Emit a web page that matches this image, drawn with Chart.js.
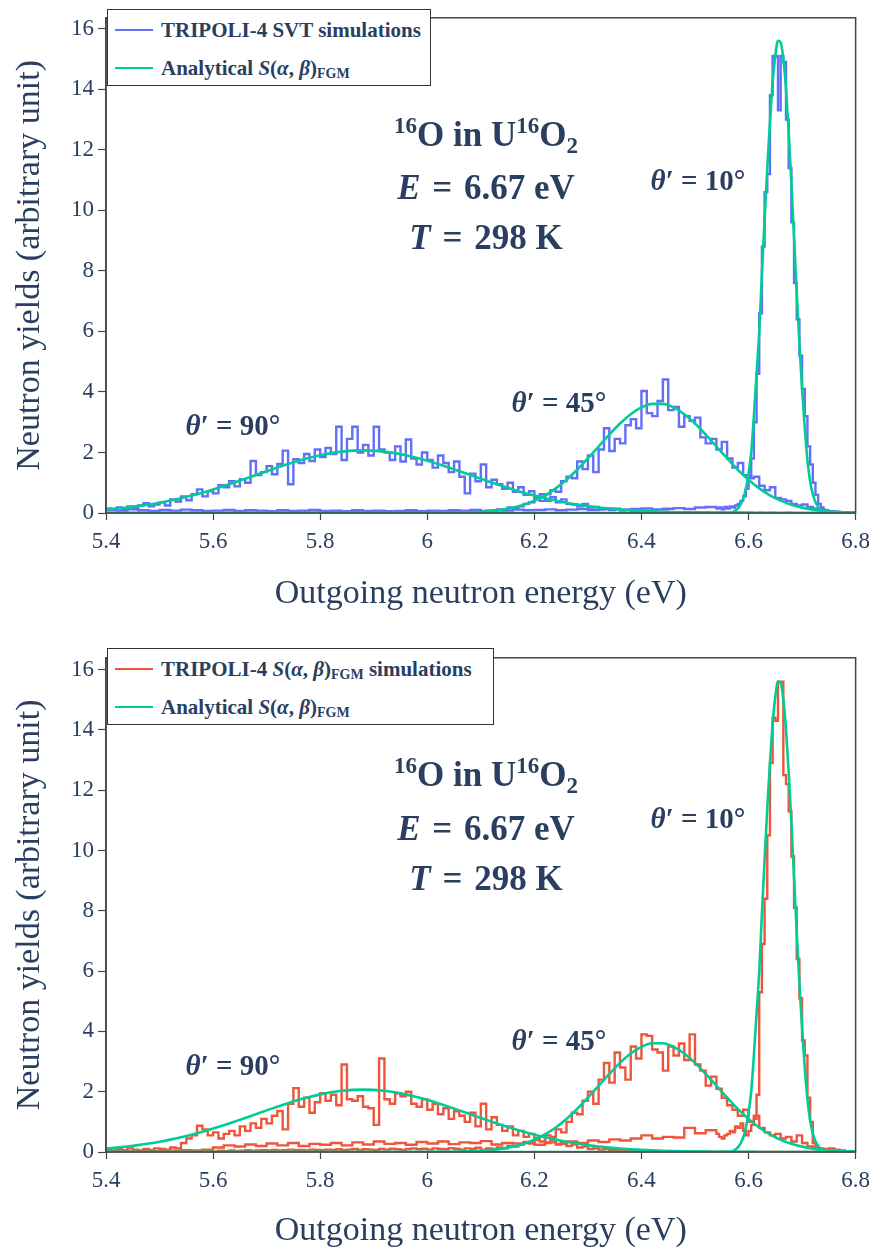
<!DOCTYPE html>
<html>
<head>
<meta charset="utf-8">
<script src="https://cdn.jsdelivr.net/npm/chart.js@4.4.1/dist/chart.umd.min.js"></script>
<style>
  body { margin: 0; background: #fff; }
  #page { position: relative; width: 878px; height: 1251px; overflow: hidden; color: #2a3f5f; font-family: "Liberation Serif", serif; }
  canvas { position: absolute; left: 0; }
  #c1 { top: 0; }
  #c2 { top: 640px; }
  .legend { position: absolute; left: 107px; border: 1.5px solid #333; background: #fff; box-sizing: border-box; }
  .leg-row { position: absolute; left: 7px; font-weight: bold; font-size: 21px; line-height: 24px; white-space: nowrap; }
  .leg-row .sw { display: inline-block; width: 38px; height: 2.5px; vertical-align: middle; margin-right: 8px; position: relative; top: -2px; }
  .leg-row sub { font-size: 14px; vertical-align: -3px; }
  .ann { position: absolute; font-weight: bold; white-space: nowrap; line-height: 1; transform: translate(-50%, -50%); }
  .big { font-size: 35px; }
  .big sup { font-size: 23px; vertical-align: 13px; }
  .big sub { font-size: 23px; vertical-align: -7px; }
  .ang { font-size: 29px; }
  .eq { margin: 0 3px; }
</style>
</head>
<body>
<div id="page">
  <canvas id="c1" width="878" height="640"></canvas>
  <canvas id="c2" width="878" height="611"></canvas>

  <div class="legend" style="top:9px; width:324px; height:77px;">
    <div class="leg-row" style="top:8px;"><span class="sw" style="background:#636efa"></span>TRIPOLI-4 SVT simulations</div>
    <div class="leg-row" style="top:46px;"><span class="sw" style="background:#00cc96"></span>Analytical <i>S</i>(<i>α</i>, <i>β</i>)<sub>FGM</sub></div>
  </div>
  <div class="legend" style="top:648px; width:387px; height:77px;">
    <div class="leg-row" style="top:8px;"><span class="sw" style="background:#ef553b"></span>TRIPOLI-4 <i>S</i>(<i>α</i>, <i>β</i>)<sub>FGM</sub> simulations</div>
    <div class="leg-row" style="top:46px;"><span class="sw" style="background:#00cc96"></span>Analytical <i>S</i>(<i>α</i>, <i>β</i>)<sub>FGM</sub></div>
  </div>

  <div class="ann big" style="left:486px; top:135px;"><sup>16</sup>O in U<sup>16</sup>O<sub>2</sub></div>
  <div class="ann big" style="left:486px; top:187px;"><i>E</i> <span class="eq">=</span> 6.67 eV</div>
  <div class="ann big" style="left:486px; top:237px;"><i>T</i> <span class="eq">=</span> 298 K</div>
  <div class="ann ang" style="left:698px; top:180px;"><i>θ</i>′ = 10°</div>
  <div class="ann ang" style="left:559px; top:402px;"><i>θ</i>′ = 45°</div>
  <div class="ann ang" style="left:233px; top:425px;"><i>θ</i>′ = 90°</div>

  <div class="ann big" style="left:486px; top:775px;"><sup>16</sup>O in U<sup>16</sup>O<sub>2</sub></div>
  <div class="ann big" style="left:486px; top:828px;"><i>E</i> <span class="eq">=</span> 6.67 eV</div>
  <div class="ann big" style="left:486px; top:878px;"><i>T</i> <span class="eq">=</span> 298 K</div>
  <div class="ann ang" style="left:698px; top:818px;"><i>θ</i>′ = 10°</div>
  <div class="ann ang" style="left:559px; top:1040px;"><i>θ</i>′ = 45°</div>
  <div class="ann ang" style="left:233px; top:1065px;"><i>θ</i>′ = 90°</div>
</div>

<script>
// ── Axes ──────────────────────────────────────────────────────────────────────
const X_TICKS = [5.4, 5.6, 5.8, 6.0, 6.2, 6.4, 6.6, 6.8];
const Y_TICKS = [0, 2, 4, 6, 8, 10, 12, 14, 16];
const X_TITLE = 'Outgoing neutron energy (eV)';
const Y_TITLE = 'Neutron yields (arbitrary unit)';

// ── Histogram bins (left edges start at 5.40 eV) ─────────────────────────────
const BIN_W  = 0.01;   // 90° and 45° histograms
const TAIL_W = 0.02;   // 10° low-energy tail, 5.40 – 6.54
const PEAK_W = 0.005;  // 10° peak, 6.54 – 6.80

// TRIPOLI-4 SVT (top panel)
const SVT_90 = [
  0.15,0.12,0.18,0.14,0.22,0.15,0.25,0.32,0.22,0.28,
  0.35,0.25,0.45,0.38,0.55,0.42,0.62,0.78,0.55,0.72,
  0.65,0.92,0.85,1.05,0.88,1.12,1.00,1.72,1.25,1.35,
  1.55,1.28,1.62,2.06,0.95,1.78,1.65,1.95,1.72,2.10,
  1.85,2.15,1.95,2.85,1.75,2.45,2.85,2.00,2.25,1.90,
  2.85,2.10,2.00,1.75,2.20,1.70,2.43,1.80,1.60,2.00,
  1.75,1.50,1.90,1.65,1.35,1.70,1.20,0.65,1.30,1.05,
  1.60,0.85,1.10,0.95,0.80,1.00,0.70,0.85,0.60,0.72,
  0.50,0.62,0.40,0.52,0.35,0.45,0.30,0.28,0.22,0.30,
  0.18,0.20,0.12,0.15,0.10,0.12,0.08,0.10,0.06,0.07,
  0.05,0.04,0.05,0.03,0.04,0.02,0.03,0.02,0.03,0.02,
  0.02,0.01,0.02,0.01,0.02,0.01,0.01,0.02,0.01,0.01,
  0.01,0,0.01,0,0.01,0,0,0.01,0,0,
  0,0,0,0,0,0,0,0,0,0
];
const SVT_45 = [
  0,0,0,0,0,0,0,0,0,0,
  0,0,0,0,0,0,0.01,0,0,0.01,
  0,0.01,0,0.01,0,0.01,0.01,0,0.01,0.01,
  0.01,0.01,0.02,0.01,0.01,0.02,0.01,0.02,0.01,0.02,
  0.02,0.01,0.02,0.03,0.02,0.02,0.03,0.02,0.03,0.02,
  0.03,0.02,0.03,0.04,0.03,0.04,0.03,0.05,0.04,0.03,
  0.04,0.05,0.04,0.06,0.05,0.04,0.06,0.05,0.07,0.06,
  0.05,0.08,0.06,0.12,0.10,0.18,0.15,0.22,0.30,0.35,
  0.45,0.40,0.62,0.75,0.70,1.05,1.20,1.15,1.70,1.45,
  1.90,1.35,2.10,2.80,2.05,2.45,2.30,2.90,3.10,2.80,
  4.03,3.30,3.20,3.70,4.41,3.40,3.50,2.85,3.20,3.05,
  3.15,2.50,2.30,2.45,2.10,2.35,1.80,1.50,1.65,1.25,
  1.15,1.20,0.90,0.75,0.85,0.50,0.45,0.40,0.30,0.25,
  0.28,0.20,0.15,0.12,0.08,0.05,0.04,0.02,0.02,0.01
];
const SVT_10_TAIL = [
  0.10,0.08,0.12,0.09,0.07,0.10,0.08,0.11,0.09,0.07,
  0.08,0.10,0.07,0.09,0.08,0.06,0.09,0.07,0.08,0.10,
  0.07,0.08,0.06,0.09,0.07,0.08,0.06,0.07,0.09,0.06,
  0.08,0.07,0.09,0.08,0.10,0.07,0.09,0.08,0.11,0.09,
  0.10,0.12,0.09,0.11,0.13,0.10,0.12,0.14,0.11,0.13,
  0.15,0.12,0.14,0.16,0.13,0.18,0.20
];
const SVT_10_PEAK = [
  0.15,0.18,0.12,0.20,0.15,0.22,0.18,0.25,0.30,0.40,
  0.55,0.80,1.20,1.80,3.00,4.60,6.60,8.80,10.6,11.2,
  13.8,15.1,15.1,13.3,15.1,14.9,13.0,11.4,9.60,7.60,
  6.40,5.20,4.10,3.20,2.20,1.60,1.00,0.60,0.30,0.18,
  0.10,0.08,0.06,0.05,0.04,0.03,0.03,0.02,0.02,0.01,
  0.01,0.01
];

// TRIPOLI-4 S(α,β)FGM (bottom panel)
const FGM_90 = [
  0.08,0.05,0.10,0.06,0.12,0.08,0.05,0.10,0.07,0.12,
  0.10,0.08,0.15,0.12,0.30,0.45,0.55,0.87,0.75,0.55,
  0.65,0.45,0.60,0.70,0.55,0.85,0.70,0.95,0.80,1.10,
  0.95,1.20,1.36,0.75,1.60,2.12,1.50,1.80,1.30,1.65,
  1.95,1.70,1.90,1.55,2.90,1.75,1.70,1.85,1.50,1.45,
  0.90,3.10,1.75,1.60,1.95,1.85,2.00,1.60,1.50,1.75,
  1.40,1.60,1.25,1.45,1.10,1.35,1.20,1.00,1.30,0.85,
  1.60,0.75,1.15,0.90,0.70,0.85,0.55,0.70,0.50,0.60,
  0.45,0.50,0.30,0.40,0.25,0.30,0.20,0.25,0.15,0.18,
  0.10,0.12,0.08,0.10,0.06,0.07,0.05,0.04,0.05,0.03,
  0.03,0.02,0.03,0.02,0.02,0.01,0.02,0.01,0.01,0.01,
  0.01,0,0.01,0,0,0.01,0,0,0,0,
  0,0,0,0,0,0,0,0,0,0,
  0,0,0,0,0,0,0,0,0,0
];
const FGM_45 = [
  0,0,0,0,0,0,0,0,0,0,
  0,0.01,0,0.01,0.02,0.01,0.02,0.03,0.02,0.03,
  0.02,0.04,0.03,0.05,0.03,0.04,0.06,0.04,0.05,0.06,
  0.05,0.07,0.05,0.06,0.08,0.06,0.07,0.05,0.08,0.07,
  0.06,0.08,0.07,0.09,0.06,0.08,0.10,0.07,0.09,0.08,
  0.07,0.10,0.08,0.11,0.09,0.07,0.10,0.12,0.09,0.11,
  0.08,0.12,0.10,0.09,0.13,0.11,0.08,0.12,0.10,0.14,
  0.08,0.12,0.10,0.15,0.12,0.20,0.18,0.25,0.30,0.28,
  0.40,0.35,0.55,0.50,0.75,0.65,1.00,1.30,1.25,1.70,
  2.00,1.60,2.40,2.95,2.30,3.30,2.80,2.40,3.50,3.10,
  3.90,3.85,3.40,3.30,2.70,3.50,3.20,3.60,3.05,3.90,
  2.90,2.70,2.20,2.50,2.10,1.80,1.55,1.40,1.20,1.40,
  1.00,1.20,0.80,0.65,0.55,0.60,0.45,0.50,0.35,0.55,
  0.30,0.18,0.15,0.12,0.10,0.12,0.08,0.05,0.03,0.02
];
const FGM_10_TAIL = [
  0.02,0.03,0.02,0.04,0.03,0.05,0.04,0.06,0.05,0.08,
  0.15,0.22,0.18,0.25,0.20,0.28,0.22,0.30,0.20,0.27,
  0.24,0.30,0.22,0.32,0.25,0.35,0.27,0.30,0.24,0.33,
  0.28,0.35,0.26,0.32,0.30,0.36,0.25,0.30,0.28,0.33,
  0.24,0.32,0.27,0.35,0.30,0.38,0.33,0.42,0.38,0.45,
  0.55,0.45,0.50,0.48,0.80,0.62,0.72
];
const FGM_10_PEAK = [
  0.60,0.50,0.45,0.55,0.60,0.70,0.65,0.85,0.80,0.95,
  0.70,0.55,0.70,0.90,1.10,1.90,5.30,6.90,8.40,10.5,
  12.9,14.4,14.3,15.6,15.6,12.5,12.2,11.3,9.80,8.10,
  6.40,5.10,3.70,3.20,1.80,1.00,0.30,0.20,0.12,0.08,
  0.07,0.05,0.06,0.04,0.03,0.05,0.03,0.02,0.02,0.01,
  0.01,0.01
];

// ── Analytical S(α,β)FGM curves ───────────────────────────────────────────────
const CURVE_W = 0.02;      // 90° and 45° sampled every 0.02 eV from 5.40
const CURVE10_START = 6.56;
const CURVE10_W = 0.005;   // 10° sampled every 0.005 eV from 6.56
const FGM_A90 = [
  0.116,0.147,0.184,0.228,0.280,0.340,0.410,0.488,0.575,0.672,
  0.777,0.889,1.008,1.130,1.256,1.381,1.503,1.620,1.729,1.827,
  1.911,1.979,2.029,2.060,2.070,2.060,2.029,1.979,1.911,1.827,
  1.729,1.620,1.503,1.381,1.256,1.130,1.008,0.889,0.777,0.672,
  0.575,0.488,0.410,0.340,0.280,0.228,0.184,0.147,0.116,0.091,
  0.070,0.054,0.041,0.031,0.023,0.017,0.012,0.009,0.006,0.004,
  0.003,0.002,0.001,0.001,0,0,0,0,0,0,0
];
const FGM_A45 = [
  0,0,0,0,0,0,0,0,0,0,
  0,0,0,0,0,0,0,0,0,0,
  0,0,0,0,0,0,0,0,0,0,
  0.002,0.003,0.007,0.013,0.023,0.040,0.068,0.112,0.178,0.274,
  0.407,0.585,0.814,1.097,1.428,1.801,2.196,2.590,2.957,3.265,
  3.488,3.605,3.605,3.488,3.265,2.957,2.590,2.196,1.801,1.428,
  1.097,0.814,0.585,0.407,0.274,0.178,0.112,0.068,0.040,0.023,
  0.013
];
const FGM_A10 = [
  0.0,0.01,0.03,0.08,0.15,0.28,0.48,0.80,1.30,2.00,
  3.20,4.60,6.00,7.90,9.70,11.4,12.9,14.2,15.1,15.6,
  15.55,15.0,14.0,12.6,10.9,9.10,7.30,5.60,4.10,2.80,
  1.75,1.05,0.62,0.36,0.20,0.11,0.06,0.03,0.015,0.007,
  0.0
];

// ── Style ─────────────────────────────────────────────────────────────────────
const BLUE = '#636efa', RED = '#ef553b', GREEN = '#00cc96';
const TEXT = '#2a3f5f', AXIS = '#444';
const SERIF = '"Liberation Serif", "Times New Roman", serif';
const E_MIN = 5.4, E_MAX = 6.8;

const r4 = v => Math.round(v * 10000) / 10000;

// histogram segments -> step points (left edges + closing edge)
function histPoints(segments) {
  const pts = [];
  let end = E_MIN, last = 0;
  segments.forEach(([start, w, vals]) => {
    vals.forEach((v, i) => pts.push({ x: r4(start + i * w), y: v }));
    end = r4(start + vals.length * w);
    last = vals[vals.length - 1];
  });
  pts.push({ x: end, y: last });
  return pts;
}
function curvePoints(start, w, vals) {
  return vals.map((v, i) => ({ x: r4(start + i * w), y: v }));
}

const histDs = (pts, color) => ({ data: pts, borderColor: color, borderWidth: 2.4, stepped: 'before', pointRadius: 0, fill: false });
const curveDs = pts => ({ data: pts, borderColor: GREEN, borderWidth: 2.6, tension: 0.4, cubicInterpolationMode: 'monotone', pointRadius: 0, fill: false });

function analytical() {
  return [
    curveDs(curvePoints(E_MIN, CURVE_W, FGM_A90)),
    curveDs(curvePoints(E_MIN, CURVE_W, FGM_A45)),
    curveDs([{ x: E_MIN, y: 0 }, ...curvePoints(CURVE10_START, CURVE10_W, FGM_A10), { x: E_MAX, y: 0 }]),
  ];
}

// frame around the plot area (mirrored axes)
const frame = {
  id: 'frame',
  afterDatasetsDraw(chart) {
    const { ctx, chartArea: a } = chart;
    ctx.save();
    ctx.strokeStyle = AXIS; ctx.lineWidth = 1.5;
    ctx.strokeRect(a.left, a.top, a.right - a.left, a.bottom - a.top);
    ctx.restore();
  }
};

function makeChart(id, datasets, yMax, xAxisH, xTitlePad) {
  return new Chart(document.getElementById(id), {
    type: 'line',
    data: { datasets },
    options: {
      responsive: false, animation: false, events: [],
      layout: { padding: { left: 0, top: 8, right: 17, bottom: 0 } },
      plugins: { legend: { display: false }, tooltip: { enabled: false } },
      scales: {
        x: {
          type: 'linear', min: E_MIN, max: E_MAX,
          afterBuildTicks: s => { s.ticks = X_TICKS.map(v => ({ value: v })); },
          afterFit: s => { s.height = xAxisH; },
          grid: { drawOnChartArea: false, tickLength: 7, color: AXIS, tickWidth: 1.2 },
          border: { color: AXIS, width: 1.5 },
          ticks: { color: TEXT, font: { family: SERIF, size: 23 }, padding: 8, maxRotation: 0, autoSkip: false,
                   callback: v => String(+v.toFixed(1)) },
          title: { display: true, text: X_TITLE, color: TEXT, font: { family: SERIF, size: 34 }, padding: { top: 0, bottom: xTitlePad } }
        },
        y: {
          min: 0, max: yMax,
          afterBuildTicks: s => { s.ticks = Y_TICKS.map(v => ({ value: v })); },
          afterFit: s => { s.width = 106; },
          grid: { drawOnChartArea: false, tickLength: 8, color: AXIS, tickWidth: 1.2 },
          border: { color: AXIS, width: 1.5 },
          ticks: { color: TEXT, font: { family: SERIF, size: 23 }, padding: 4, autoSkip: false },
          title: { display: true, text: Y_TITLE, color: TEXT, font: { family: SERIF, size: 34 }, padding: { top: 10, bottom: 0 } }
        }
      }
    },
    plugins: [frame]
  });
}

makeChart('c1', [
  ...analytical(),
  histDs(histPoints([[E_MIN, TAIL_W, SVT_10_TAIL], [6.54, PEAK_W, SVT_10_PEAK]]), BLUE),
  histDs(histPoints([[E_MIN, BIN_W, SVT_45]]), BLUE),
  histDs(histPoints([[E_MIN, BIN_W, SVT_90]]), BLUE),
], 16.36, 127, 26);

makeChart('c2', [
  ...analytical(),
  histDs(histPoints([[E_MIN, TAIL_W, FGM_10_TAIL], [6.54, PEAK_W, FGM_10_PEAK]]), RED),
  histDs(histPoints([[E_MIN, BIN_W, FGM_45]]), RED),
  histDs(histPoints([[E_MIN, BIN_W, FGM_90]]), RED),
], 16.39, 99, 0);
</script>
</body>
</html>
